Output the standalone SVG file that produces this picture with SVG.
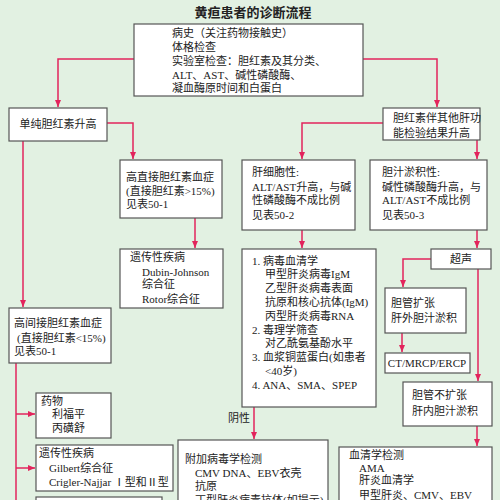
<svg xmlns="http://www.w3.org/2000/svg" width="500" height="500" viewBox="0 0 500 500">
<defs>
<marker id="ah" markerWidth="8" markerHeight="8" refX="7" refY="4" orient="auto" markerUnits="userSpaceOnUse">
<path d="M0,1 L7,4 L0,7 Z" fill="#e2245c"/>
</marker>
<style>
.bx{fill:#ffffff;stroke:#555;stroke-width:1.2}
.t{font-family:"Liberation Serif","Noto Sans CJK SC",serif;font-size:11px;fill:#222}
.c{text-anchor:middle}
.ln{fill:none;stroke:#e2245c;stroke-width:1.5;marker-end:url(#ah)}
.ln2{fill:none;stroke:#e2245c;stroke-width:1.5}
</style>
</defs>
<rect width="500" height="500" fill="#e2f1e2"/>
<text x="253" y="17" font-family="'Noto Sans CJK SC',sans-serif" font-size="13" font-weight="bold" text-anchor="middle" fill="#222">黄疸患者的诊断流程</text>

<g id="connectors">
<path class="ln" d="M134,59 H58 V107"/>
<path class="ln" d="M363,59 H437 V107"/>
<path class="ln" d="M107,123 H133 V159"/>
<path class="ln" d="M195,218 V248"/>
<path class="ln" d="M23,141 V307"/>
<path class="ln2" d="M16,363 V500"/>
<path class="ln" d="M16,414 H35"/>
<path class="ln" d="M16,468 H35"/>
<path class="ln" d="M383,123 H302 V159"/>
<path class="ln" d="M477,140 V159"/>
<path class="ln" d="M302,230 V248"/>
<path class="ln" d="M477,230 V248"/>
<path class="ln" d="M431,259 H403 V287"/>
<path class="ln" d="M402,333 V352"/>
<path class="ln" d="M478,269 V381"/>
<path class="ln" d="M477,426 V446"/>
<path class="ln" d="M254,407 V439"/>
<text x="228" y="422" font-family="'Noto Sans CJK SC',sans-serif" font-size="11" fill="#222">阴性</text>
</g>

<g id="n-top">
<rect class="bx" x="134" y="24" width="229" height="72"/>
<text class="t" x="172" y="37">病史（关注药物接触史）</text>
<text class="t" x="172" y="51">体格检查</text>
<text class="t" x="172" y="65">实验室检查：胆红素及其分类、</text>
<text class="t" x="172" y="79">ALT、AST、碱性磷酸酶、</text>
<text class="t" x="172" y="92">凝血酶原时间和白蛋白</text>
</g>

<g id="n-simple">
<rect class="bx" x="9" y="108" width="98" height="33"/>
<text class="t c" x="58" y="128">单纯胆红素升高</text>
</g>

<g id="n-other">
<rect class="bx" x="383" y="108" width="97" height="32"/>
<text class="t" x="393" y="122">胆红素伴其他肝功</text>
<text class="t" x="393" y="137">能检验结果升高</text>
</g>

<g id="n-direct">
<rect class="bx" x="120" y="160" width="102" height="58"/>
<text class="t" x="126" y="181">高直接胆红素血症</text>
<text class="t" x="126" y="195">(直接胆红素&gt;15%)</text>
<text class="t" x="126" y="208">见表50-1</text>
</g>

<g id="n-dubin">
<rect class="bx" x="120" y="249" width="103" height="59"/>
<text class="t" x="130" y="261">遗传性疾病</text>
<text class="t" x="142" y="276">Dubin-Johnson</text>
<text class="t" x="142" y="288">综合征</text>
<text class="t" x="142" y="303">Rotor综合征</text>
</g>

<g id="n-indirect">
<rect class="bx" x="9" y="308" width="102" height="55"/>
<text class="t" x="14" y="327">高间接胆红素血症</text>
<text class="t" x="17" y="342">(直接胆红素&lt;15%)</text>
<text class="t" x="14" y="355">见表50-1</text>
</g>

<g id="n-drug">
<rect class="bx" x="36" y="393" width="75" height="45"/>
<text class="t" x="41" y="405">药物</text>
<text class="t" x="52" y="418">利福平</text>
<text class="t" x="52" y="432">丙磺舒</text>
</g>

<g id="n-gilbert">
<rect class="bx" x="36" y="445" width="137" height="46"/>
<text class="t" x="39" y="457">遗传性疾病</text>
<text class="t" x="49" y="472">Gilbert综合征</text>
<text class="t" x="49" y="486">Crigler-Najjar Ⅰ型和Ⅱ型</text>
</g>

<g id="n-bottomleft">
<rect class="bx" x="36" y="497" width="126" height="20"/>
</g>

<g id="n-hepato">
<rect class="bx" x="242" y="160" width="113" height="70"/>
<text class="t" x="252" y="176">肝细胞性:</text>
<text class="t" x="252" y="191">ALT/AST升高，与碱</text>
<text class="t" x="252" y="204">性磷酸酶不成比例</text>
<text class="t" x="252" y="219">见表50-2</text>
</g>

<g id="n-chole">
<rect class="bx" x="370" y="160" width="117" height="70"/>
<text class="t" x="382" y="176">胆汁淤积性:</text>
<text class="t" x="382" y="191">碱性磷酸酶升高，与</text>
<text class="t" x="382" y="204">ALT/AST不成比例</text>
<text class="t" x="382" y="219">见表50-3</text>
</g>

<g id="n-tests">
<rect class="bx" x="242" y="249" width="134" height="158"/>
<text class="t" x="252" y="265">1. 病毒血清学</text>
<text class="t" x="265" y="278">甲型肝炎病毒IgM</text>
<text class="t" x="265" y="292">乙型肝炎病毒表面</text>
<text class="t" x="265" y="306">抗原和核心抗体(IgM)</text>
<text class="t" x="265" y="320">丙型肝炎病毒RNA</text>
<text class="t" x="252" y="334">2. 毒理学筛查</text>
<text class="t" x="265" y="347">对乙酰氨基酚水平</text>
<text class="t" x="252" y="361">3. 血浆铜蓝蛋白(如患者</text>
<text class="t" x="265" y="375">&lt;40岁)</text>
<text class="t" x="252" y="389">4. ANA、SMA、SPEP</text>
</g>

<g id="n-us">
<rect class="bx" x="431" y="249" width="60" height="20"/>
<text class="t c" x="461" y="263">超声</text>
</g>

<g id="n-dilated">
<rect class="bx" x="385" y="288" width="81" height="45"/>
<text class="t" x="391" y="307">胆管扩张</text>
<text class="t" x="391" y="322">肝外胆汁淤积</text>
</g>

<g id="n-ct">
<rect class="bx" x="385" y="353" width="85" height="20"/>
<text class="t c" x="427" y="367">CT/MRCP/ERCP</text>
</g>

<g id="n-notdilated">
<rect class="bx" x="403" y="382" width="89" height="44"/>
<text class="t" x="412" y="399">胆管不扩张</text>
<text class="t" x="412" y="415">肝内胆汁淤积</text>
</g>

<g id="n-serology">
<rect class="bx" x="339" y="447" width="153" height="70"/>
<text class="t" x="349" y="459">血清学检测</text>
<text class="t" x="359" y="472">AMA</text>
<text class="t" x="359" y="484">肝炎血清学</text>
<text class="t" x="359" y="499">甲型肝炎、CMV、EBV</text>
</g>

<g id="n-virus">
<rect class="bx" x="178" y="440" width="150" height="80"/>
<text class="t" x="185" y="463">附加病毒学检测</text>
<text class="t" x="195" y="477">CMV DNA、EBV衣壳</text>
<text class="t" x="195" y="490">抗原</text>
<text class="t" x="195" y="504">丁型肝炎病毒抗体(如提示)</text>
</g>
</svg>
